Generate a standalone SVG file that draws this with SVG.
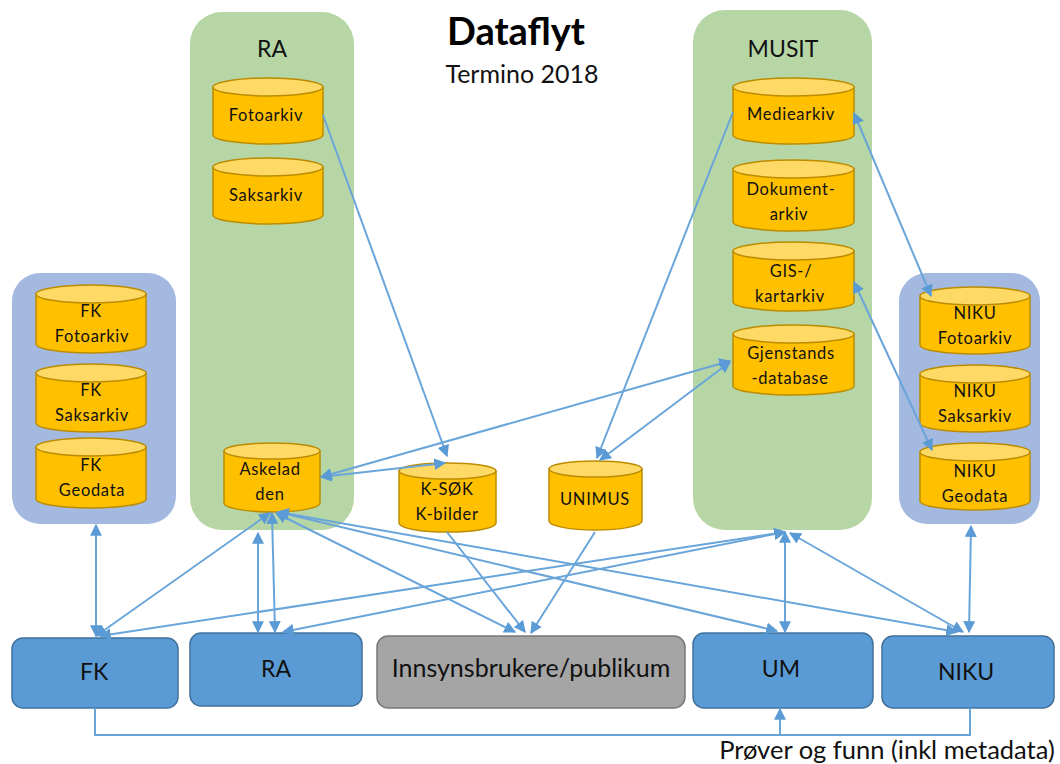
<svg xmlns="http://www.w3.org/2000/svg" width="1060" height="764" viewBox="0 0 1060 764">
<style>
text{font-family:Lato,"Liberation Sans",sans-serif;text-anchor:middle;fill:#111}
.cyl{font-size:16.500px;letter-spacing:.7px}
.box{fill:#5b9bd5;stroke:#41719c;stroke-width:1.5}
.grey{fill:#a5a5a5;stroke:#787878;stroke-width:1.5}
.body{fill:#ffc000;stroke:#bc8c00;stroke-width:1.5}
.top{fill:#ffd966;stroke:#bc8c00;stroke-width:1.5}
.green{fill:#b7d6a6}
.blue{fill:#a3b9e0}
.big{font-size:23px}
.wide{font-size:25px}
#connectors path{fill:none;stroke:#6aa5da;stroke-width:2}
.a{marker-end:url(#ah)}
.b{marker-start:url(#ahs);marker-end:url(#ah)}
</style>
<defs>
<marker id="ah" viewBox="0 0 10 10" refX="9" refY="5" markerWidth="6" markerHeight="6" markerUnits="strokeWidth" orient="auto"><path d="M0 0L10 5L0 10Z" fill="#5b9bd5"/></marker>
<marker id="ahs" viewBox="0 0 10 10" refX="1" refY="5" markerWidth="6" markerHeight="6" markerUnits="strokeWidth" orient="auto"><path d="M10 0L0 5L10 10Z" fill="#5b9bd5"/></marker>
</defs>
<rect width="1060" height="764" fill="#fff"/>
<g id="container-ra"><rect class="green" x="190" y="12" width="164" height="518" rx="32"/><text class="big" x="272" y="57">RA</text></g>
<g id="container-musit"><rect class="green" x="693" y="10" width="179" height="520" rx="32"/><text class="big" x="783" y="57">MUSIT</text></g>
<g id="container-fk"><rect class="blue" x="12" y="273" width="164" height="251" rx="28"/></g>
<g id="container-niku"><rect class="blue" x="899" y="273" width="141" height="251" rx="28"/></g>
<g id="title"><text x="516" y="45" font-size="38" font-weight="700" style="fill:#000">Dataflyt</text><text x="522" y="83" class="wide">Termino 2018</text></g>

<g id="fotoarkiv"><path class="body" d="M213 87V135A55 9 0 0 0 323 135V87Z"/><ellipse class="top" cx="268" cy="87" rx="55" ry="9"/><text class="cyl" x="266" y="121">Fotoarkiv</text></g>
<g id="saksarkiv"><path class="body" d="M213 167V215A55 9 0 0 0 323 215V167Z"/><ellipse class="top" cx="268" cy="167" rx="55" ry="9"/><text class="cyl" x="266" y="201">Saksarkiv</text></g>
<g id="askeladden"><path class="body" d="M224 451V503A48 9 0 0 0 320 503V451Z"/><ellipse class="top" cx="272" cy="451" rx="48" ry="8"/><text class="cyl" x="270" y="475">Askelad</text><text class="cyl" x="270" y="500">den</text></g>
<g id="ksok"><path class="body" d="M399 471V523A48 9 0 0 0 496 523V471Z"/><ellipse class="top" cx="447.500" cy="471" rx="48.500" ry="8"/><text class="cyl" x="447" y="495">K-SØK</text><text class="cyl" x="447" y="520">K-bilder</text></g>
<g id="unimus"><path class="body" d="M549 469V521A46.500 9 0 0 0 642 521V469Z"/><ellipse class="top" cx="595.500" cy="469" rx="46.500" ry="8"/><text class="cyl" x="595" y="505">UNIMUS</text></g>
<g id="mediearkiv"><path class="body" d="M733 87V135A60.500 9 0 0 0 854 135V87Z"/><ellipse class="top" cx="793.500" cy="87" rx="60.500" ry="9"/><text class="cyl" x="791" y="120">Mediearkiv</text></g>
<g id="dokumentarkiv"><path class="body" d="M733 169V222A60.500 9 0 0 0 854 222V169Z"/><ellipse class="top" cx="793.500" cy="169" rx="60.500" ry="9"/><text class="cyl" x="791" y="195">Dokument-</text><text class="cyl" x="789" y="220">arkiv</text></g>
<g id="gisarkiv"><path class="body" d="M733 251V302A60.500 9 0 0 0 854 302V251Z"/><ellipse class="top" cx="793.500" cy="251" rx="60.500" ry="9"/><text class="cyl" x="791" y="277">GIS-/</text><text class="cyl" x="790" y="302">kartarkiv</text></g>
<g id="gjenstandsdatabase"><path class="body" d="M733 334V386A60.500 9 0 0 0 854 386V334Z"/><ellipse class="top" cx="793.500" cy="334" rx="60.500" ry="9"/><text class="cyl" x="791" y="359">Gjenstands</text><text class="cyl" x="790" y="384">-database</text></g>
<g id="fk-fotoarkiv"><path class="body" d="M36 294V344A55 9 0 0 0 146 344V294Z"/><ellipse class="top" cx="91" cy="294" rx="55" ry="9"/><text class="cyl" x="91" y="317">FK</text><text class="cyl" x="92" y="342">Fotoarkiv</text></g>
<g id="fk-saksarkiv"><path class="body" d="M36 373V423A55 9 0 0 0 146 423V373Z"/><ellipse class="top" cx="91" cy="373" rx="55" ry="9"/><text class="cyl" x="91" y="396">FK</text><text class="cyl" x="92" y="421">Saksarkiv</text></g>
<g id="fk-geodata"><path class="body" d="M36 447V499A55 9 0 0 0 146 499V447Z"/><ellipse class="top" cx="91" cy="447" rx="55" ry="9"/><text class="cyl" x="91" y="471">FK</text><text class="cyl" x="92" y="496">Geodata</text></g>
<g id="niku-fotoarkiv"><path class="body" d="M920 296V345A55 9 0 0 0 1030 345V296Z"/><ellipse class="top" cx="975" cy="296" rx="55" ry="9"/><text class="cyl" x="975" y="319">NIKU</text><text class="cyl" x="975" y="344">Fotoarkiv</text></g>
<g id="niku-saksarkiv"><path class="body" d="M920 374V423A55 9 0 0 0 1030 423V374Z"/><ellipse class="top" cx="975" cy="374" rx="55" ry="9"/><text class="cyl" x="975" y="397">NIKU</text><text class="cyl" x="975" y="422">Saksarkiv</text></g>
<g id="niku-geodata"><path class="body" d="M920 452V501A55 9 0 0 0 1030 501V452Z"/><ellipse class="top" cx="975" cy="452" rx="55" ry="9"/><text class="cyl" x="975" y="477">NIKU</text><text class="cyl" x="975" y="502">Geodata</text></g>

<g id="box-fk"><rect class="box" x="12" y="638" width="166" height="70" rx="11"/><text class="big" x="94" y="680">FK</text></g>
<g id="box-ra"><rect class="box" x="190" y="633" width="172" height="73" rx="11"/><text class="big" x="276" y="677">RA</text></g>
<g id="box-innsyn"><rect class="grey" x="377" y="636" width="308" height="72" rx="11"/><text class="wide" x="531" y="677">Innsynsbrukere/publikum</text></g>
<g id="box-um"><rect class="box" x="693" y="633" width="180" height="75" rx="11"/><text class="big" x="781" y="677">UM</text></g>
<g id="box-niku"><rect class="box" x="882" y="636" width="172" height="72" rx="11"/><text class="big" x="966" y="680">NIKU</text></g>
<text id="label-prover" x="887" y="759" font-size="25.500">Prøver og funn (inkl metadata)</text>

<g id="connectors">
<path class="a" d="M323 115L447 456"/>
<path class="a" d="M733 112L597 458"/>
<path class="b" d="M854 113L931 296"/>
<path class="b" d="M854 282L932 450"/>
<path class="b" d="M730 361L321 477"/>
<path class="b" d="M730 362L600 460"/>
<path class="b" d="M321 477L445 463"/>
<path class="b" d="M96 525L96 636"/>
<path class="b" d="M258 533L258 632"/>
<path class="b" d="M272 513L275 632"/>
<path class="b" d="M270 513L96 636"/>
<path class="b" d="M276 513L515 632"/>
<path class="a" d="M447 532L525 632"/>
<path class="a" d="M595 532L531 633"/>
<path class="b" d="M278 512L777 631"/>
<path class="b" d="M278 512L957 632"/>
<path class="b" d="M100 636L785 532"/>
<path class="b" d="M283 632L785 532"/>
<path class="b" d="M785 532L785 632"/>
<path class="b" d="M963 632L790 533"/>
<path class="b" d="M971 526L969 632"/>
<path class="a" d="M95 708V735H970V708M780 735V709"/>
</g>
</svg>
